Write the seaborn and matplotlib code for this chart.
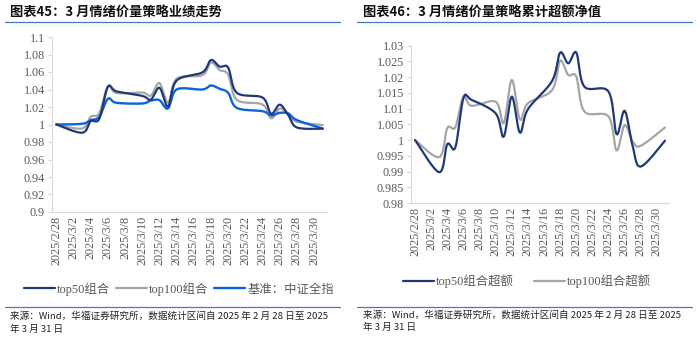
import numpy as np
import pandas as pd
import matplotlib
matplotlib.use("Agg")
import matplotlib.pyplot as plt
import seaborn as sns
from matplotlib.lines import Line2D

sns.set_theme(style="white")
plt.rcParams['font.family'] = ['Liberation Serif', 'Noto Sans CJK SC', 'DejaVu Sans']

# ---- data (trading days, day offset from 2025/2/28) ----
day_offset = [0, 3, 4, 5, 6, 7, 10, 11, 12, 13, 14, 17, 18, 19, 20, 21, 24, 25, 26, 27, 28, 31]
top50 = [1.0, 0.9906, 1.0037, 1.0065, 1.0430, 1.0379, 1.0327, 1.0285, 1.0420, 1.0207, 1.0502,
         1.0596, 1.0737, 1.0662, 1.0650, 1.0363, 1.0308, 1.0122, 1.0227, 1.0106, 0.9966, 0.9952]
top100 = [1.0, 0.9954, 1.0088, 1.0129, 1.0435, 1.0360, 1.0365, 1.0330, 1.0474, 1.0250, 1.0522,
          1.0565, 1.0709, 1.0623, 1.0571, 1.0283, 1.0228, 1.0070, 1.0182, 1.0120, 1.0032, 0.9994]
bench = [1.0, 1.0008, 1.0050, 1.0088, 1.0293, 1.0248, 1.0240, 1.0274, 1.0278, 1.0183, 1.0400,
         1.0400, 1.0446, 1.0408, 1.0362, 1.0190, 1.0152, 1.0103, 1.0133, 1.0126, 1.0050, 0.9954]
excess50 = [1.0, 0.9898, 0.9987, 0.9977, 1.0133, 1.0128, 1.0085, 1.0011, 1.0138, 1.0024, 1.0098,
            1.0188, 1.0278, 1.0244, 1.0278, 1.0170, 1.0154, 1.0019, 1.0093, 0.9980, 0.9916, 0.9998]
excess100 = [1.0, 0.9946, 1.0038, 1.0041, 1.0138, 1.0109, 1.0122, 1.0054, 1.0191, 1.0066, 1.0117,
             1.0159, 1.0252, 1.0207, 1.0202, 1.0091, 1.0075, 0.9967, 1.0048, 0.9995, 0.9982, 1.0040]
tick_labels = ["2025/2/28", "2025/3/2", "2025/3/4", "2025/3/6", "2025/3/8", "2025/3/10",
               "2025/3/12", "2025/3/14", "2025/3/16", "2025/3/18", "2025/3/20", "2025/3/22",
               "2025/3/24", "2025/3/26", "2025/3/28", "2025/3/30"]
left_yticks = [0.9, 0.92, 0.94, 0.96, 0.98, 1.0, 1.02, 1.04, 1.06, 1.08, 1.1]
left_ylabels = ["0.9", "0.92", "0.94", "0.96", "0.98", "1", "1.02", "1.04", "1.06", "1.08", "1.1"]
right_yticks = [0.98, 0.985, 0.99, 0.995, 1.0, 1.005, 1.01, 1.015, 1.02, 1.025, 1.03]
right_ylabels = ["0.98", "0.985", "0.99", "0.995", "1", "1.005", "1.01", "1.015", "1.02", "1.025", "1.03"]

C50 = "#1f3978"
C100 = "#a5a5a5"
CB = "#0a64e0"
TICKC = "#595959"
AXC = "#d9d9d9"
RULE = "#4a78c4"
FS = 8.7
LFS = 8.9


def smooth(x, y, n=24):
    """Excel-like smoothed line rendering (Catmull-Rom Bezier through the points)."""
    P = np.column_stack([x, y]).astype(float)
    P = np.vstack([P[0], P, P[-1]])
    out = []
    for i in range(1, len(P) - 2):
        p0, p1, p2, p3 = P[i - 1], P[i], P[i + 1], P[i + 2]
        c1 = p1 + (p2 - p0) / 6.0
        c2 = p2 - (p3 - p1) / 6.0
        t = np.linspace(0, 1, n, endpoint=(i == len(P) - 3))[:, None]
        seg = ((1 - t) ** 3) * p1 + 3 * ((1 - t) ** 2) * t * c1 + 3 * (1 - t) * t ** 2 * c2 + t ** 3 * p2
        out.append(seg)
    s = np.vstack(out)
    return s[:, 0], s[:, 1]


fig = plt.figure(figsize=(7.0, 3.41), dpi=100)
W, H = 700, 341


def box(l, t, r, b):
    return [l / W, (H - b) / H, (r - l) / W, (b - t) / H]


def style_axes(ax, yt, yl, ylim):
    ax.set_xlim(-0.5, 31.5)
    ax.set_ylim(*ylim)
    ax.set_yticks(yt)
    ax.set_yticklabels(yl, fontsize=FS, color=TICKC, family='Liberation Serif')
    ax.set_xticks(list(range(0, 31, 2)))
    ax.set_xticklabels(tick_labels, rotation=90, fontsize=FS, color=TICKC, family='Liberation Serif')
    for s in ['top', 'right']:
        ax.spines[s].set_visible(False)
    for s in ['left', 'bottom']:
        ax.spines[s].set_color(AXC)
        ax.spines[s].set_linewidth(0.8)
    ax.tick_params(axis='y', length=3, width=0.8, color=AXC, pad=2, left=True)
    ax.tick_params(axis='x', length=0, pad=3)
    ax.set_xlabel("")
    ax.set_ylabel("")
    ax.grid(False)


# ---- left chart ----
ax1 = fig.add_axes(box(52, 37, 327, 212))
for vals, c, lw in [(top100, C100, 1.6), (bench, CB, 1.7), (top50, C50, 1.6)]:
    sx, sy = smooth(day_offset, vals)
    sns.lineplot(x=sx, y=sy, ax=ax1, color=c, linewidth=lw, sort=False, estimator=None)
style_axes(ax1, left_yticks, left_ylabels, (0.9, 1.1))
h1 = [Line2D([], [], color=C50, lw=1.6), Line2D([], [], color=C100, lw=1.6), Line2D([], [], color=CB, lw=1.7)]
ax1.legend(h1, ["top50组合", "top100组合", "基准：中证全指"], loc='center', bbox_to_anchor=(179 / W, 1 - 289 / H),
           bbox_transform=fig.transFigure, ncol=3, frameon=False, handlelength=2.5, handletextpad=0.15,
           columnspacing=0.5, prop={'size': LFS}, labelcolor=TICKC)

# ---- right chart ----
ax2 = fig.add_axes(box(411, 45.7, 669, 203))
for vals, c, lw in [(excess100, C100, 1.6), (excess50, C50, 1.6)]:
    sx, sy = smooth(day_offset, vals)
    sns.lineplot(x=sx, y=sy, ax=ax2, color=c, linewidth=lw, sort=False, estimator=None)
style_axes(ax2, right_yticks, right_ylabels, (0.98, 1.03))
h2 = [Line2D([], [], color=C50, lw=1.6), Line2D([], [], color=C100, lw=1.6)]
ax2.legend(h2, ["top50组合超额", "top100组合超额"], loc='center', bbox_to_anchor=(527 / W, 1 - 281 / H),
           bbox_transform=fig.transFigure, ncol=2, frameon=False, handlelength=2.5, handletextpad=0.15,
           columnspacing=1.6, prop={'size': LFS}, labelcolor=TICKC)

# ---- titles, rules, sources ----
cjk = ['Noto Sans CJK SC', 'DejaVu Sans']
fig.text(10 / W, 1 - 13 / H, "图表45：3 月情绪价量策略业绩走势", fontsize=9.5, fontweight='bold',
         family=cjk, va='center', ha='left', color='#111111')
fig.text(363 / W, 1 - 13 / H, "图表46：3 月情绪价量策略累计超额净值", fontsize=9.5, fontweight='bold',
         family=cjk, va='center', ha='left', color='#111111')
for x0, x1 in [(5, 340), (357, 692)]:
    for yy in (22, 307):
        fig.add_artist(Line2D([x0 / W, x1 / W], [1 - yy / H, 1 - yy / H], color=RULE, lw=0.9,
                              transform=fig.transFigure))
src1 = "来源：Wind，华福证券研究所，数据统计区间自 2025 年 2 月 28 日至 2025"
src2 = "年 3 月 31 日"
for x0, ya, yb in [(10, 316, 329), (363, 315, 327)]:
    fig.text(x0 / W, 1 - ya / H, src1, fontsize=6.9, family=cjk, va='center', ha='left', color='#222222')
    fig.text(x0 / W, 1 - yb / H, src2, fontsize=6.9, family=cjk, va='center', ha='left', color='#222222')

fig.savefig("out.png", dpi=100)
